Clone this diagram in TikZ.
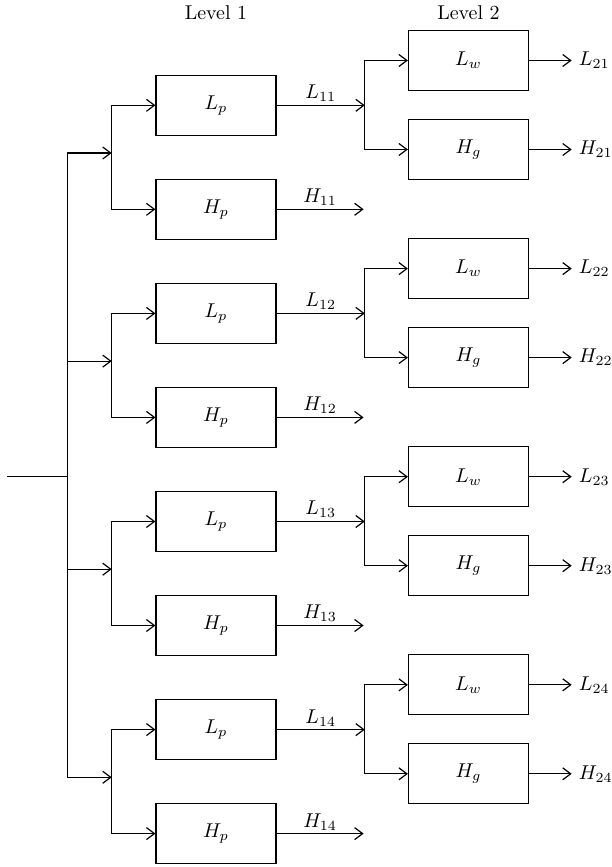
\documentclass[tikz,border=0pt]{standalone}
\usepackage{amsmath}
\usetikzlibrary{arrows.meta}

\tikzset{
  filt/.style={draw, minimum width=60pt, minimum height=30pt, inner sep=0pt},
  lbl/.style={inner sep=1.5pt}
}

\begin{document}
\begin{tikzpicture}[x=0.5pt, y=-0.5pt, line width=0.6pt,
    >={Straight Barb[length=4pt,width=6pt]}]

    \useasboundingbox (0,0) rectangle (611,867);

    % Stage titles
    \node (lev1) at (216,12.7) {Level 1};
    \node (lev2) at (468.5,12.7) {Level 2};

    % Input and trunk
    \coordinate (in) at (7.3,476.7);
    \foreach \i in {1,...,4}
        \coordinate (t\i) at (67.3,{153+208.1*(\i-1)});
    \draw (in) -- (in -| t1);
    \draw (t1) -- (t4);

    \foreach \i in {1,...,4} {
        \pgfmathsetmacro{\d}{208.1*(\i-1)}

        % Level 1 filters
        \node[filt] (lp\i) at (216,105.3+\d) {$L_p$};
        \node[filt] (hp\i) at (216,209.3+\d) {$H_p$};
        \coordinate (s\i) at (111.7,153+\d);
        \draw[->] (t\i) -- (s\i);
        \draw[->] (s\i) |- (lp\i.west);
        \draw[->] (s\i) |- (hp\i.west);

        % Level 2 filters
        \node[filt] (lw\i) at (468.5,60.5+\d) {$L_w$};
        \node[filt] (hg\i) at (468.5,149.5+\d) {$H_g$};
        \coordinate (m\i) at (364.8,105.3+\d);
        \coordinate (h\i) at (363.6,209.3+\d);
        \draw[->] (lp\i) -- node[above, lbl] {$L_{1\i}$} (m\i);
        \draw[->] (hp\i) -- node[above, lbl] {$H_{1\i}$} (h\i);
        \draw[->] (m\i) |- (lw\i.west);
        \draw[->] (m\i) |- (hg\i.west);

        % Outputs
        \coordinate (ol\i) at (571.7,60.5+\d);
        \coordinate (oh\i) at (571.7,149.5+\d);
        \draw[->] (lw\i) -- (ol\i) node[right] {$L_{2\i}$};
        \draw[->] (hg\i) -- (oh\i) node[right] {$H_{2\i}$};
    }

\end{tikzpicture}
\end{document}
